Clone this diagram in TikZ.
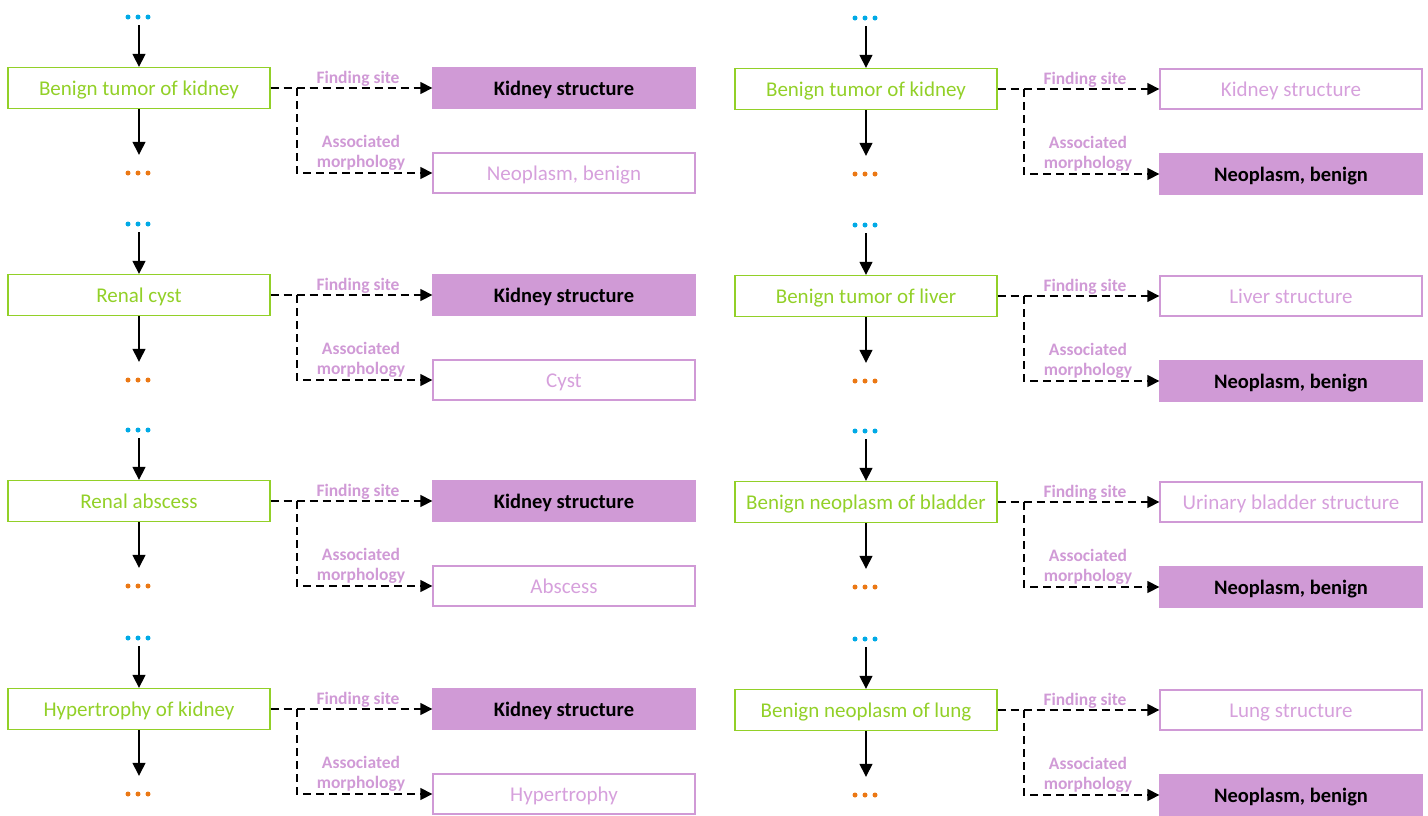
\documentclass[tikz,border=0pt]{standalone}
\usepackage{fontspec}
\setmainfont{Carlito}
\usetikzlibrary{arrows.meta}
\definecolor{grn}{RGB}{146,208,40}
\definecolor{pur}{RGB}{208,154,214}
\definecolor{purtxt}{RGB}{214,160,220}
\definecolor{dotblue}{RGB}{0,170,230}
\definecolor{dotorange}{RGB}{235,120,20}
\tikzset{
  srcbox/.style={draw=grn, line width=1.3pt, text=grn, minimum width=262pt, minimum height=41pt, inner sep=0pt, text height=16pt, text depth=2pt, font=\fontsize{21}{23}\selectfont},
  tgtfill/.style={draw=pur, fill=pur, line width=1.3pt, text=black, minimum width=262pt, minimum height=40pt, inner sep=0pt, text height=16pt, text depth=2pt, font=\fontsize{20.5}{23}\selectfont\bfseries},
  tgtopen/.style={draw=pur, line width=1.3pt, text=purtxt, minimum width=262pt, minimum height=40pt, inner sep=0pt, text height=16pt, text depth=2pt, font=\fontsize{21}{23}\selectfont},
  reltext/.style={text=pur, font=\fontsize{17.5}{20}\selectfont\bfseries, align=center, inner sep=0pt},
  dotsnode/.style={inner sep=0pt, minimum width=26pt, minimum height=6pt},
  solidarrow/.style={line width=1.3pt, -{Triangle[length=13pt,width=13pt]}},
  dasharrow/.style={line width=1.3pt, dash pattern=on 8pt off 5pt, -{Triangle[length=12pt,width=12pt]}},
}
\newcommand\threedots[4]{% name, x, y, color
  \node[dotsnode] (#1) at (#2,#3) {};
  \fill[#4] (#2-10,#3) circle (2.5pt) (#2,#3) circle (2.5pt) (#2+10,#3) circle (2.5pt);
}
\newcommand\myrow[8]{% id, x, y, src, t1, t1style, t2, t2style
  \threedots{top#1}{#2+138}{#3-71}{dotblue}
  \node[srcbox] (src#1) at (#2+139,#3) {#4};
  \threedots{bot#1}{#2+138}{#3+85}{dotorange}
  \node[#6] (ta#1) at (#2+564,#3) {#5};
  \node[#8] (tb#1) at (#2+564,#3+85) {#7};
  \coordinate (br#1) at (#2+297,#3);
  \draw[solidarrow] (top#1.south -| src#1.north) ++(0,5) -- (src#1.north);
  \draw[solidarrow, shorten >=15pt] (src#1.south) -- (bot#1.north -| src#1.south);
  \draw[dasharrow] (src#1.east) -- (ta#1.west);
  \draw[dasharrow] (br#1) |- (tb#1.west);
  \node[reltext] (la#1) at (#2+358,#3-9) {Finding site};
  \node[reltext] (lb#1) at (#2+361,#3+64.5) {Associated\\morphology};
}
\begin{document}
\begin{tikzpicture}[x=1pt,y=-1pt]
\useasboundingbox (0,0) rectangle (1428,815);
\myrow{a}{0}{88}{Benign tumor of kidney}{Kidney structure}{tgtfill}{Neoplasm, benign}{tgtopen}
\myrow{b}{0}{295}{Renal cyst}{Kidney structure}{tgtfill}{Cyst}{tgtopen}
\myrow{c}{0}{501}{Renal abscess}{Kidney structure}{tgtfill}{Abscess}{tgtopen}
\myrow{d}{0}{709}{Hypertrophy of kidney}{Kidney structure}{tgtfill}{Hypertrophy}{tgtopen}
\myrow{e}{727}{89}{Benign tumor of kidney}{Kidney structure}{tgtopen}{Neoplasm, benign}{tgtfill}
\myrow{f}{727}{296}{Benign tumor of liver}{Liver structure}{tgtopen}{Neoplasm, benign}{tgtfill}
\myrow{g}{727}{502}{Benign neoplasm of bladder}{Urinary bladder structure}{tgtopen}{Neoplasm, benign}{tgtfill}
\myrow{h}{727}{710}{Benign neoplasm of lung}{Lung structure}{tgtopen}{Neoplasm, benign}{tgtfill}
\end{tikzpicture}
\end{document}
